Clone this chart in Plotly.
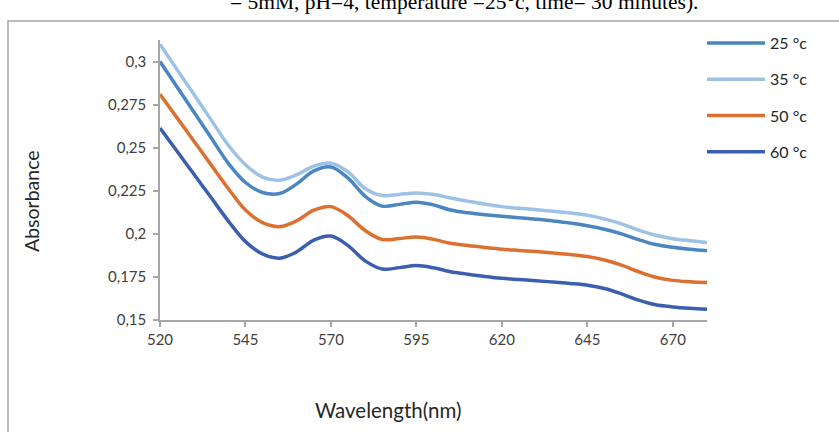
import plotly.graph_objects as go

wavelength = list(range(520, 681, 5))
abs_25 = [0.3000, 0.2852, 0.2704, 0.2556, 0.2409, 0.2298, 0.2240, 0.2234, 0.2290, 0.2365,
          0.2388, 0.2323, 0.2218, 0.2161, 0.2171, 0.2184, 0.2168, 0.2138, 0.2122, 0.2111,
          0.2102, 0.2094, 0.2085, 0.2075, 0.2063, 0.2047, 0.2027, 0.2000, 0.1966, 0.1938,
          0.1922, 0.1910, 0.1902]
abs_35 = [0.3100, 0.2953, 0.2807, 0.2660, 0.2514, 0.2401, 0.2329, 0.2311, 0.2343, 0.2393,
          0.2410, 0.2360, 0.2263, 0.2222, 0.2229, 0.2237, 0.2228, 0.2208, 0.2190, 0.2173,
          0.2158, 0.2148, 0.2140, 0.2131, 0.2121, 0.2108, 0.2087, 0.2058, 0.2022, 0.1992,
          0.1972, 0.1960, 0.1950]
abs_50 = [0.2810, 0.2673, 0.2536, 0.2399, 0.2262, 0.2138, 0.2065, 0.2042, 0.2076, 0.2137,
          0.2158, 0.2105, 0.2019, 0.1967, 0.1973, 0.1981, 0.1968, 0.1945, 0.1932, 0.1921,
          0.1911, 0.1904, 0.1897, 0.1889, 0.1880, 0.1868, 0.1848, 0.1818, 0.1780, 0.1748,
          0.1730, 0.1722, 0.1717]
abs_60 = [0.2614, 0.2479, 0.2344, 0.2209, 0.2074, 0.1955, 0.1883, 0.1859, 0.1896, 0.1964,
          0.1987, 0.1932, 0.1843, 0.1796, 0.1804, 0.1816, 0.1803, 0.1780, 0.1766, 0.1753,
          0.1742, 0.1735, 0.1728, 0.1720, 0.1712, 0.1702, 0.1683, 0.1652, 0.1615, 0.1588,
          0.1576, 0.1568, 0.1562]
series_names = ["25 °c", "35 °c", "50 °c", "60 °c"]
series_colors = ["#4a86c2", "#9dc2e6", "#dc7030", "#3b5fae"]
x_ticks = [520, 545, 570, 595, 620, 645, 670]
y_ticks = [0.15, 0.175, 0.2, 0.225, 0.25, 0.275, 0.3]

W, H = 839, 432
L, R, T, B = 160, 132, 40, 112
pw, ph = W - L - R, H - T - B

def px(x):
    return (x - L) / pw

def py(y):
    return 1 - (y - T) / ph

fig = go.Figure()
for i, (name, vals, col) in enumerate(zip(series_names, [abs_25, abs_35, abs_50, abs_60], series_colors)):
    fig.add_trace(go.Scatter(
        x=wavelength, y=vals, name=name, mode="lines",
        line=dict(color=col, width=3.5, shape="spline", smoothing=1.0),
        legendgroup=f"g{i}",
    ))

font_family = "Lato, 'Open Sans', sans-serif"
axis_col = "#a6a6a6"

fig.update_layout(
    width=W, height=H,
    margin=dict(l=L, r=R, t=T, b=B),
    paper_bgcolor="white", plot_bgcolor="white",
    separators=", ",
    font=dict(family=font_family, size=15, color="#404040"),
    showlegend=True,
    legend=dict(
        x=px(702), y=py(26), xanchor="left", yanchor="top",
        traceorder="grouped", tracegroupgap=12.5,
        font=dict(size=16, color="#262626"),
        itemwidth=58, bgcolor="rgba(0,0,0,0)",
    ),
    xaxis=dict(
        range=[520, 680], tickvals=x_ticks, ticks="outside", ticklen=5,
        tickcolor=axis_col, tickwidth=1.5, showline=True, linecolor=axis_col,
        linewidth=1.5, showgrid=False, zeroline=False,
        tickfont=dict(size=15, color="#404040"),
    ),
    yaxis=dict(
        range=[0.15, 0.3125], tickvals=y_ticks, ticks="outside", ticklen=5,
        tickcolor=axis_col, tickwidth=1.5, showline=True, linecolor=axis_col,
        linewidth=1.5, showgrid=False, zeroline=False, ticklabelstandoff=4,
        tickfont=dict(size=15, color="#404040"),
    ),
    shapes=[dict(
        type="rect", xref="paper", yref="paper",
        x0=px(8), x1=px(900), y0=py(500), y1=py(21),
        line=dict(color="#a6a6a6", width=1.5), fillcolor="rgba(0,0,0,0)", layer="below",
    )],
    annotations=[
        dict(text="Absorbance", xref="paper", yref="paper", x=px(31), y=py(201),
             textangle=-90, showarrow=False, xanchor="center", yanchor="middle",
             font=dict(size=19.5, color="#262626")),
        dict(text="Wavelength(nm)", xref="paper", yref="paper", x=px(388), y=py(410),
             showarrow=False, xanchor="center", yanchor="middle",
             font=dict(size=20.5, color="#262626")),
        dict(text="= 5mM, pH=4, temperature =25°c, time= 30 minutes).", xref="paper", yref="paper",
             x=px(464), y=py(16), showarrow=False, xanchor="center", yanchor="bottom",
             font=dict(family="'Liberation Serif', 'DejaVu Serif', serif", size=21.5, color="#000000")),
    ],
)

fig.write_html("out.html")
